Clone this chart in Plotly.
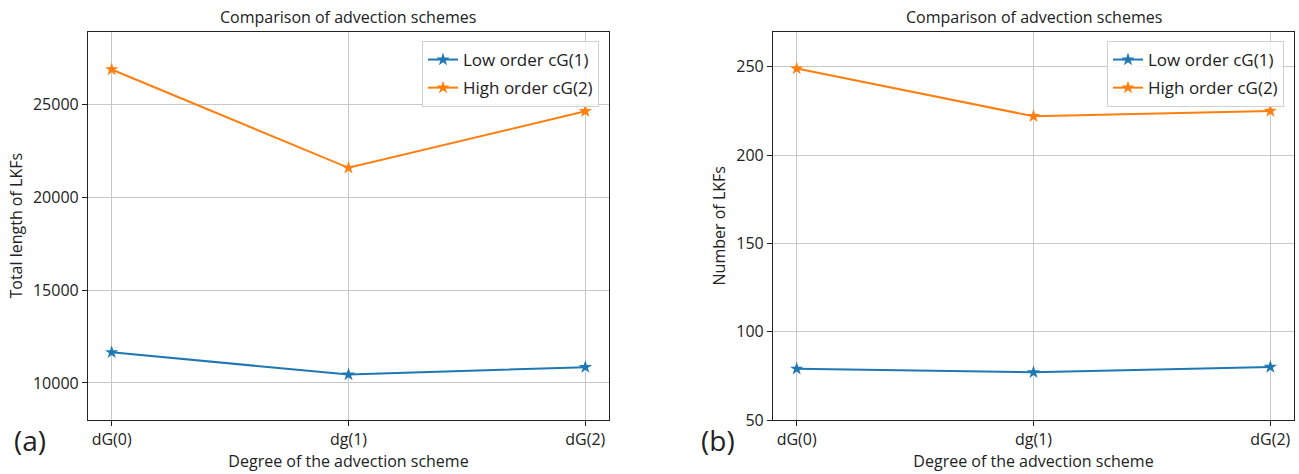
import plotly.graph_objects as go

categories = ["dG(0)", "dg(1)", "dG(2)"]
length_low = [11650, 10450, 10850]
length_high = [26900, 21600, 24650]
count_low = [79, 77, 80]
count_high = [249, 222, 225]
series_names = ["Low order cG(1)", "High order cG(2)"]
colors = ["#1f77b4", "#ff7f0e"]
length_ticks = [10000, 15000, 20000, 25000]
count_ticks = [50, 100, 150, 200, 250]

xpos = list(range(len(categories)))
FONT = "Open Sans"
FS = 16
W, H = 1299, 474
YDOM = [1 - 420 / H, 1 - 31.5 / H]
XDOM1 = [88 / W, 609 / W]
XDOM2 = [773 / W, 1294 / W]

fig = go.Figure()
for i, (low, high) in enumerate([(length_low, length_high), (count_low, count_high)]):
    xa = "x" if i == 0 else "x2"
    ya = "y" if i == 0 else "y2"
    lg = "legend" if i == 0 else "legend2"
    for j, (name, vals, c) in enumerate(zip(series_names, [low, high], colors)):
        fig.add_trace(go.Scatter(
            x=xpos, y=vals, mode="lines+markers", name=name,
            line=dict(color=c, width=2),
            marker=dict(symbol="star", size=10, color=c),
            xaxis=xa, yaxis=ya, legend=lg, legendgroup=f"g{i}{j}",
        ))

axis_common = dict(
    showline=True, linecolor="#222", linewidth=1.2, mirror=True,
    ticks="outside", ticklen=5, tickcolor="#222", automargin=False,
    showgrid=True, gridcolor="#c8c8c8", gridwidth=1,
    zeroline=False, tickfont=dict(family=FONT, size=FS, color="#222"),
)
xcommon = dict(axis_common, tickvals=xpos, ticktext=categories, range=[-0.1, 2.1],
               title=dict(text="Degree of the advection scheme", font=dict(family=FONT, size=FS, color="#222"), standoff=4))

legend_common = dict(xanchor="right", yanchor="top",
                     bgcolor="rgba(255,255,255,0.8)", bordercolor="#d0d0d0", borderwidth=1,
                     font=dict(family=FONT, size=17, color="#222"), tracegroupgap=3)

fig.update_layout(
    width=W, height=H,
    margin=dict(l=0, r=0, t=0, b=0),
    paper_bgcolor="white", plot_bgcolor="white",
    font=dict(family=FONT, size=FS, color="#222"),
    xaxis=dict(xcommon, domain=XDOM1, anchor="y"),
    yaxis=dict(axis_common, domain=YDOM, range=[8000, 28950], anchor="x",
               tickvals=length_ticks, ticktext=[str(v) for v in length_ticks],
               title=dict(text="Total length of LKFs", font=dict(family=FONT, size=FS, color="#222"), standoff=6)),
    xaxis2=dict(xcommon, domain=XDOM2, anchor="y2"),
    yaxis2=dict(axis_common, domain=YDOM, range=[50, 270], anchor="x2",
                tickvals=count_ticks, ticktext=[str(v) for v in count_ticks],
                title=dict(text="Number of LKFs", font=dict(family=FONT, size=FS, color="#222"), standoff=6)),
    legend=dict(legend_common, x=599 / W, y=1 - 41 / H),
    legend2=dict(legend_common, x=1284 / W, y=1 - 41 / H),
    annotations=[
        dict(text="Comparison of advection schemes", x=sum(XDOM1) / 2, y=1 - 17 / H,
             xref="paper", yref="paper", showarrow=False, xanchor="center", yanchor="middle",
             font=dict(family=FONT, size=FS, color="#222")),
        dict(text="Comparison of advection schemes", x=sum(XDOM2) / 2, y=1 - 17 / H,
             xref="paper", yref="paper", showarrow=False, xanchor="center", yanchor="middle",
             font=dict(family=FONT, size=FS, color="#222")),
        dict(text="(a)", x=30 / W, y=1 - 440 / H, xref="paper", yref="paper", showarrow=False,
             xanchor="center", yanchor="middle", font=dict(family=FONT, size=28, color="#222")),
        dict(text="(b)", x=718 / W, y=1 - 440 / H, xref="paper", yref="paper", showarrow=False,
             xanchor="center", yanchor="middle", font=dict(family=FONT, size=28, color="#222")),
    ],
)

fig.write_html("out.html", config={"displayModeBar": False},
               post_script="document.body.style.margin='0';document.body.style.overflow='hidden';")
